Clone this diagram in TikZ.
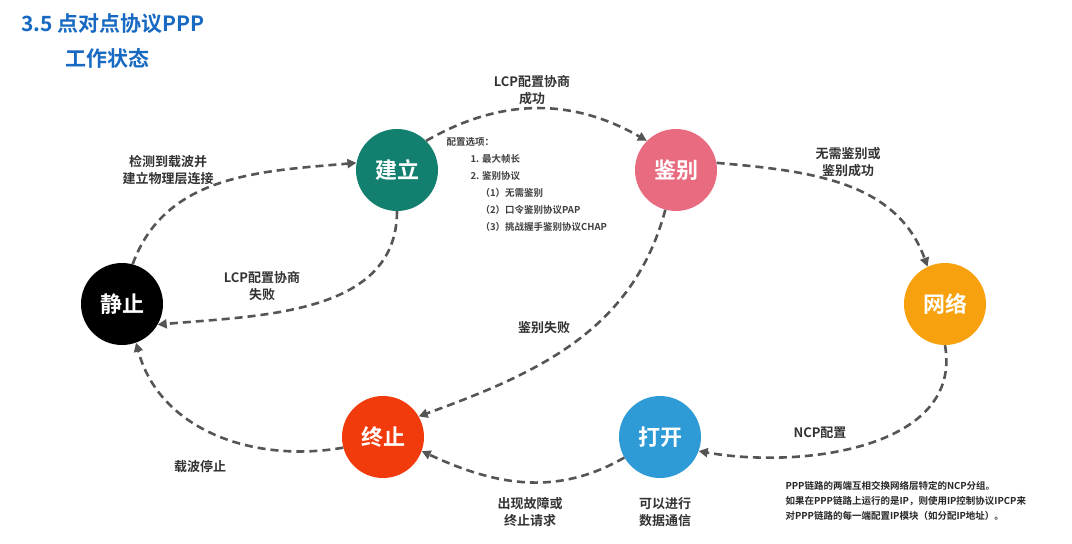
\documentclass[tikz,border=0pt]{standalone}
\usepackage{fontspec}
\setmainfont{Noto Sans CJK SC Bold}
\newfontfamily\cjkb{Noto Sans CJK SC Bold}
\usetikzlibrary{arrows.meta}
\definecolor{cteal}{HTML}{13806F}
\definecolor{cpink}{HTML}{E86B80}
\definecolor{corange}{HTML}{F7A10E}
\definecolor{cblue}{HTML}{2E9BD6}
\definecolor{cred}{HTML}{F23B0C}
\definecolor{ctitle}{HTML}{1769C2}
\definecolor{cline}{HTML}{555555}
\begin{document}
\begin{tikzpicture}[x=1pt,y=-1pt,
  st/.style={circle,minimum size=82pt,inner sep=0pt,text=white,font=\cjkb\fontsize{22}{24}\selectfont},
  con/.style={draw=cline,line width=2.6pt,dash pattern=on 8pt off 5pt,-{Triangle[length=9pt,width=9pt]}},
  lab/.style={align=center,font=\fontsize{13}{17}\selectfont,text=black!80}]
\useasboundingbox (0,0) rectangle (1072,544);
\node[anchor=west,text=ctitle,font=\cjkb\fontsize{21}{22}\selectfont] (t1) at (18,24) {3.5 点对点协议PPP};
\node[anchor=west,text=ctitle,font=\cjkb\fontsize{21}{22}\selectfont] (t2) at (62,58) {工作状态};
\node[st,fill=cteal] (jl) at (397,170) {建立};
\node[st,fill=cpink] (jb) at (676,170) {鉴别};
\node[st,fill=corange] (wl) at (945,304) {网络};
\node[st,fill=cblue] (dk) at (660,437) {打开};
\node[st,fill=cred] (zz) at (383,437) {终止};
\node[st,fill=black] (jz) at (122,304) {静止};
\draw[con] (jz.75) to[out=70,in=185] (jl.170);
\draw[con] (jl.45) to[out=30,in=150] (jb.135);
\draw[con] (jb.10) to[out=-5,in=110] (wl.115);
\draw[con] (wl.-90) to[out=-80,in=-10] (dk.-20);
\draw[con] (dk.-150) to[out=-150,in=-25] (zz.-20);
\draw[con] (zz.195) to[out=190,in=-75] (jz.-70);
\draw[con] (jl.-90) to[out=-90,in=5] (jz.-30);
\draw[con] (jb.-105) to[out=-105,in=20] (zz.30);
\node[lab] (l1) at (168,170) {检测到载波并\\建立物理层连接};
\node[lab] (l2) at (532,90) {LCP配置协商\\成功};
\node[lab] (l3) at (848,162) {无需鉴别或\\鉴别成功};
\node[lab] (l4) at (820,433) {NCP配置};
\node[lab] (l5) at (530,512) {出现故障或\\终止请求};
\node[lab] (l6) at (665,512) {可以进行\\数据通信};
\node[lab] (l7) at (200,467) {载波停止};
\node[lab] (l8) at (262,286) {LCP配置协商\\失败};
\node[lab] (l9) at (544,328) {鉴别失败};
\node[anchor=north west,align=left,font=\fontsize{9.5}{17}\selectfont,text=black!75] (opt) at (443,134)
 {配置选项：\\\hspace*{24pt}1. 最大帧长\\\hspace*{24pt}2. 鉴别协议\\\hspace*{34pt}（1）无需鉴别\\\hspace*{34pt}（2）口令鉴别协议PAP\\\hspace*{34pt}（3）挑战握手鉴别协议CHAP};
\node[anchor=north west,align=left,font=\fontsize{9.5}{15}\selectfont,text=black!85] (ncp) at (782,478)
 {PPP链路的两端互相交换网络层特定的NCP分组。\\如果在PPP链路上运行的是IP，则使用IP控制协议IPCP来\\对PPP链路的每一端配置IP模块（如分配IP地址）。};
\end{tikzpicture}
\end{document}
